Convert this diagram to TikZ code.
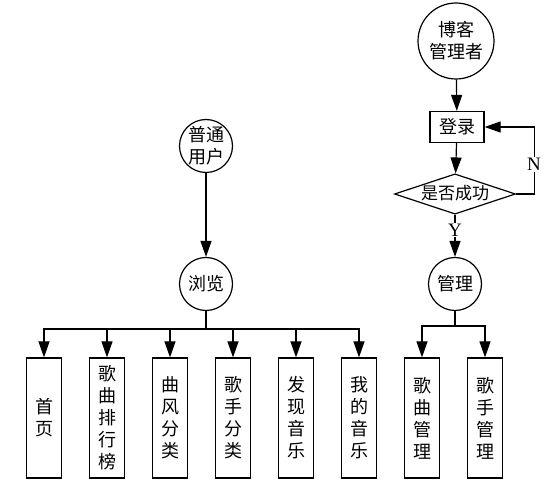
\documentclass[tikz,border=0pt]{standalone}
\usepackage{fontspec}
\setmainfont{Liberation Serif}
\newfontfamily\cjk{Noto Sans CJK SC}
\usetikzlibrary{arrows.meta,shapes.geometric}

\begin{document}
\begin{tikzpicture}[x=1pt,y=-1pt,line width=1.2pt,>={Triangle[length=16pt,width=11pt]}]
                \tikzstyle{role}=[circle,draw=black,fill=white,minimum size=53pt,inner sep=0pt,align=center,font=\cjk\fontsize{18}{22}\selectfont]
                \tikzstyle{item}=[rectangle,draw=black,fill=white,minimum width=35pt,minimum height=120pt,inner sep=0pt,align=center,font=\cjk\fontsize{18}{22}\selectfont]
                \tikzstyle{answer}=[fill=white,inner sep=1pt,font=\fontsize{19}{20}\selectfont]
                \useasboundingbox (0,0) rectangle (550,492);

                % left: ordinary user
                \node[role] (user) at (206,146) {普通\\用户};
                \node[role] (browse) at (206,284) {浏览};
                \foreach \name/\x/\txt in {home/44/{首\\页}, rank/107/{歌\\曲\\排\\行\\榜}, style/170/{曲\\风\\分\\类},
                                        singer/233/{歌\\手\\分\\类}, find/296/{发\\现\\音\\乐}, mine/359/{我\\的\\音\\乐}}
                        \node[item] (I-\name) at (\x,418) {\txt};

                % right: blog admin
                \node[role,minimum size=76pt] (admin) at (456,41) {博客\\管理者};
                \node[rectangle,draw=black,fill=white,minimum width=54pt,minimum height=31pt,inner sep=0pt,font=\cjk\fontsize{18}{20}\selectfont] (login) at (457,127) {登录};
                \node[diamond,draw=black,fill=white,aspect=3,inner xsep=4pt,inner ysep=0pt,text height=13pt,text depth=2pt,font=\cjk\fontsize{17}{20}\selectfont] (check) at (455,194) {是否成功};
                \node[role] (manage) at (455,284) {管理};
                \foreach \name/\x/\txt in {songs/422/{歌\\曲\\管\\理}, singers/485/{歌\\手\\管\\理}}
                        \node[item] (I-\name) at (\x,418) {\txt};

                \draw[->] (user) -- (browse);
                \draw (browse.south) -- ++(0,18) coordinate (busL);
                \foreach \name in {home, rank, style, singer, find, mine}
                        \draw[->] (busL) -| (I-\name.north);

                \draw[->] (admin) -- (login);
                \draw[->] (login) -- (check);
                \draw[->] (check.east) -- ++(18,0) |- (login.east) node[answer,pos=0.22] {N};
                \draw[->] (check.south) -- (manage.north) node[answer,pos=0.36] {Y};
                \draw (manage.south) -- ++(0,15) coordinate (busR);
                \foreach \name in {songs, singers}
                        \draw[->] (busR) -| (I-\name.north);
\end{tikzpicture}
\end{document}
